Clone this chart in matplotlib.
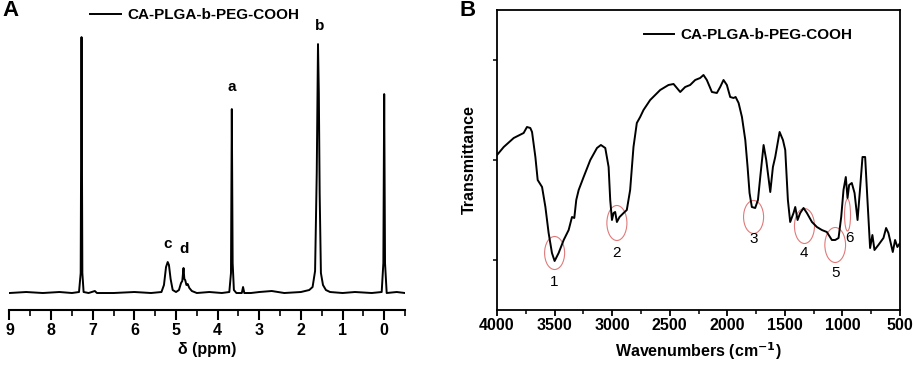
import matplotlib.pyplot as plt
from matplotlib.patches import Ellipse
from matplotlib.ticker import MultipleLocator

plt.rcParams['font.family'] = ['Liberation Sans', 'DejaVu Sans']
plt.rcParams['font.weight'] = 'bold'

# ---- panel A: 1H NMR (ppm, intensity) ----
nmr_ppm = [9.0, 8.6, 8.2, 7.8, 7.5, 7.33, 7.29, 7.27, 7.25, 7.22, 7.1, 6.95, 6.9,
           6.5, 6.0, 5.6, 5.35, 5.29, 5.24, 5.20, 5.17, 5.13, 5.08, 5.0, 4.93,
           4.88, 4.85, 4.82, 4.80, 4.78, 4.75, 4.72, 4.68, 4.62, 4.5, 4.2, 3.9,
           3.72, 3.68, 3.66, 3.64, 3.61, 3.55, 3.42, 3.39, 3.36, 3.2, 3.0, 2.7,
           2.4, 2.0, 1.8, 1.72, 1.66, 1.62, 1.59, 1.57, 1.55, 1.52, 1.47, 1.40,
           1.3, 1.0, 0.7, 0.3, 0.06, 0.02, 0.0, -0.02, -0.06, -0.3, -0.5]
nmr_int = [0, 1, 0, 1, 0, 1, 20, 256, 20, 1, 0, 2, 0,
           0, 1, 0, 1, 8, 26, 31, 28, 14, 3, 1, 3,
           10, 12, 25, 14, 13, 8, 9, 5, 2, 0, 1, 0,
           1, 20, 184, 30, 3, 0, 0, 6, 0, 0, 1, 2,
           0, 1, 3, 6, 22, 120, 249, 200, 100, 20, 8, 3,
           1, 0, 1, 0, 1, 30, 199, 30, 0, 1, 0]
nmr_labels = ['a', 'b', 'c', 'd']
nmr_label_ppm = [3.65, 1.56, 5.19, 4.80]
nmr_label_y = [199, 260, 42, 37]

# ---- panel B: FTIR (wavenumber, transmittance) ----
ir_wn = [4000, 3942, 3855, 3769, 3740, 3711, 3696, 3667, 3647, 3609, 3580,
         3552, 3523, 3500, 3465, 3421, 3378, 3349, 3329, 3312, 3291, 3248,
         3190, 3132, 3098, 3060, 3031, 3017, 3002, 2988, 2974, 2959, 2936,
         2901, 2873, 2844, 2815, 2786, 2757, 2728, 2670, 2583, 2511, 2467,
         2438, 2409, 2366, 2323, 2279, 2236, 2207, 2178, 2134, 2091, 2062,
         2033, 2004, 1975, 1946, 1928, 1902, 1873, 1844, 1824, 1807, 1787,
         1758, 1734, 1714, 1685, 1662, 1627, 1604, 1584, 1546, 1517, 1497,
         1474, 1454, 1425, 1410, 1390, 1367, 1338, 1309, 1265, 1222, 1179,
         1136, 1092, 1063, 1034, 1011, 991, 971, 956, 942, 919, 895, 869,
         846, 826, 803, 783, 760, 740, 722, 688, 644, 621, 601, 563, 543,
         523, 500]
ir_t = [155, 163, 172, 177, 183, 182, 178, 153, 130, 123, 103,
        77, 57, 49, 57, 70, 80, 93, 92, 110, 120, 133,
        150, 162, 165, 162, 143, 110, 90, 97, 98, 88, 93,
        97, 100, 120, 163, 187, 193, 200, 210, 220, 225, 226,
        222, 218, 223, 225, 230, 232, 235, 230, 218, 217, 223,
        230, 225, 213, 212, 213, 207, 193, 170, 143, 117, 103,
        102, 110, 133, 165, 150, 118, 143, 153, 178, 170, 160,
        110, 88, 97, 103, 90, 97, 102, 97, 88, 83, 80,
        78, 70, 70, 72, 93, 120, 133, 112, 125, 127, 117, 90,
        123, 153, 153, 110, 62, 75, 60, 65, 72, 82, 77, 58, 70,
        63, 67]
band_labels = ['1', '2', '3', '4', '5', '6']
band_wn = [3500, 2959, 1772, 1330, 1063, 956]
band_t = [57, 87, 93, 84, 65, 95]
band_w = [174, 174, 174, 174, 180, 52]
band_h = [33, 35, 33, 35, 35, 32]
band_label_t = [28, 57, 71, 57, 37, 72]
band_label_wn = [3500, 2959, 1772, 1338, 1057, 940]

fig = plt.figure(figsize=(9.13, 3.66), dpi=100)

# panel A
ax1 = fig.add_axes([0.0104, 0.153, 0.4332, 0.833])
ax1.plot(nmr_ppm, nmr_int, color='black', lw=1.4, label='CA-PLGA-b-PEG-COOH')
ax1.set_xlim(9, -0.5)
ax1.set_ylim(-17, 288)
for s in ['left', 'right', 'top']:
    ax1.spines[s].set_visible(False)
ax1.spines['bottom'].set_linewidth(1.5)
ax1.set_yticks([])
ax1.xaxis.set_major_locator(MultipleLocator(1))
ax1.xaxis.set_minor_locator(MultipleLocator(0.5))
ax1.tick_params(axis='x', which='major', length=7, width=1.5, labelsize=11.5, pad=2)
ax1.tick_params(axis='x', which='minor', length=4, width=1.2)
ax1.set_xlabel('δ (ppm)', fontsize=11.5, fontweight='bold', labelpad=3)
for lab, x, y in zip(nmr_labels, nmr_label_ppm, nmr_label_y):
    ax1.text(x, y, lab, ha='center', va='bottom', fontsize=11, fontweight='bold')
ax1.legend(loc='upper left', bbox_to_anchor=(0.17, 1.035), frameon=False,
           fontsize=11, handlelength=2.0, handletextpad=0.4)
fig.text(0.003, 0.972, 'A', fontsize=16, fontweight='bold', va='center')

# panel B
ax2 = fig.add_axes([0.5444, 0.153, 0.4414, 0.8197])
ax2.plot(ir_wn, ir_t, color='black', lw=1.4, label='CA-PLGA-b-PEG-COOH')
ax2.set_xlim(4000, 500)
ax2.set_ylim(0, 300)
for s in ax2.spines.values():
    s.set_linewidth(1.3)
ax2.set_yticks([50, 150, 250])
ax2.set_yticklabels([])
ax2.xaxis.set_major_locator(MultipleLocator(500))
ax2.xaxis.set_minor_locator(MultipleLocator(250))
ax2.tick_params(axis='x', which='major', length=4, width=1.3, labelsize=11.5, pad=2)
ax2.tick_params(axis='x', which='minor', length=3, width=1.1)
ax2.tick_params(axis='y', length=3, width=1.1)
ax2.set_xlabel('Wavenumbers (cm$^{\\mathbf{-1}}$)', fontsize=11.5, fontweight='bold', labelpad=5)
ax2.set_ylabel('Transmittance', fontsize=11.5, fontweight='bold', labelpad=8)
for lab, x, y, w, h, lx, ly in zip(band_labels, band_wn, band_t, band_w, band_h,
                                   band_label_wn, band_label_t):
    ax2.add_patch(Ellipse((x, y), w, h, fill=False, edgecolor='#e07a7a', lw=0.8))
    ax2.text(lx, ly, lab, ha='center', va='center', fontsize=11, fontweight='normal')
ax2.legend(loc='upper left', bbox_to_anchor=(0.33, 0.985), frameon=False,
           fontsize=11, handlelength=2.0, handletextpad=0.4)
fig.text(0.503, 0.972, 'B', fontsize=16, fontweight='bold', va='center')

fig.savefig('out.png', dpi=100)
